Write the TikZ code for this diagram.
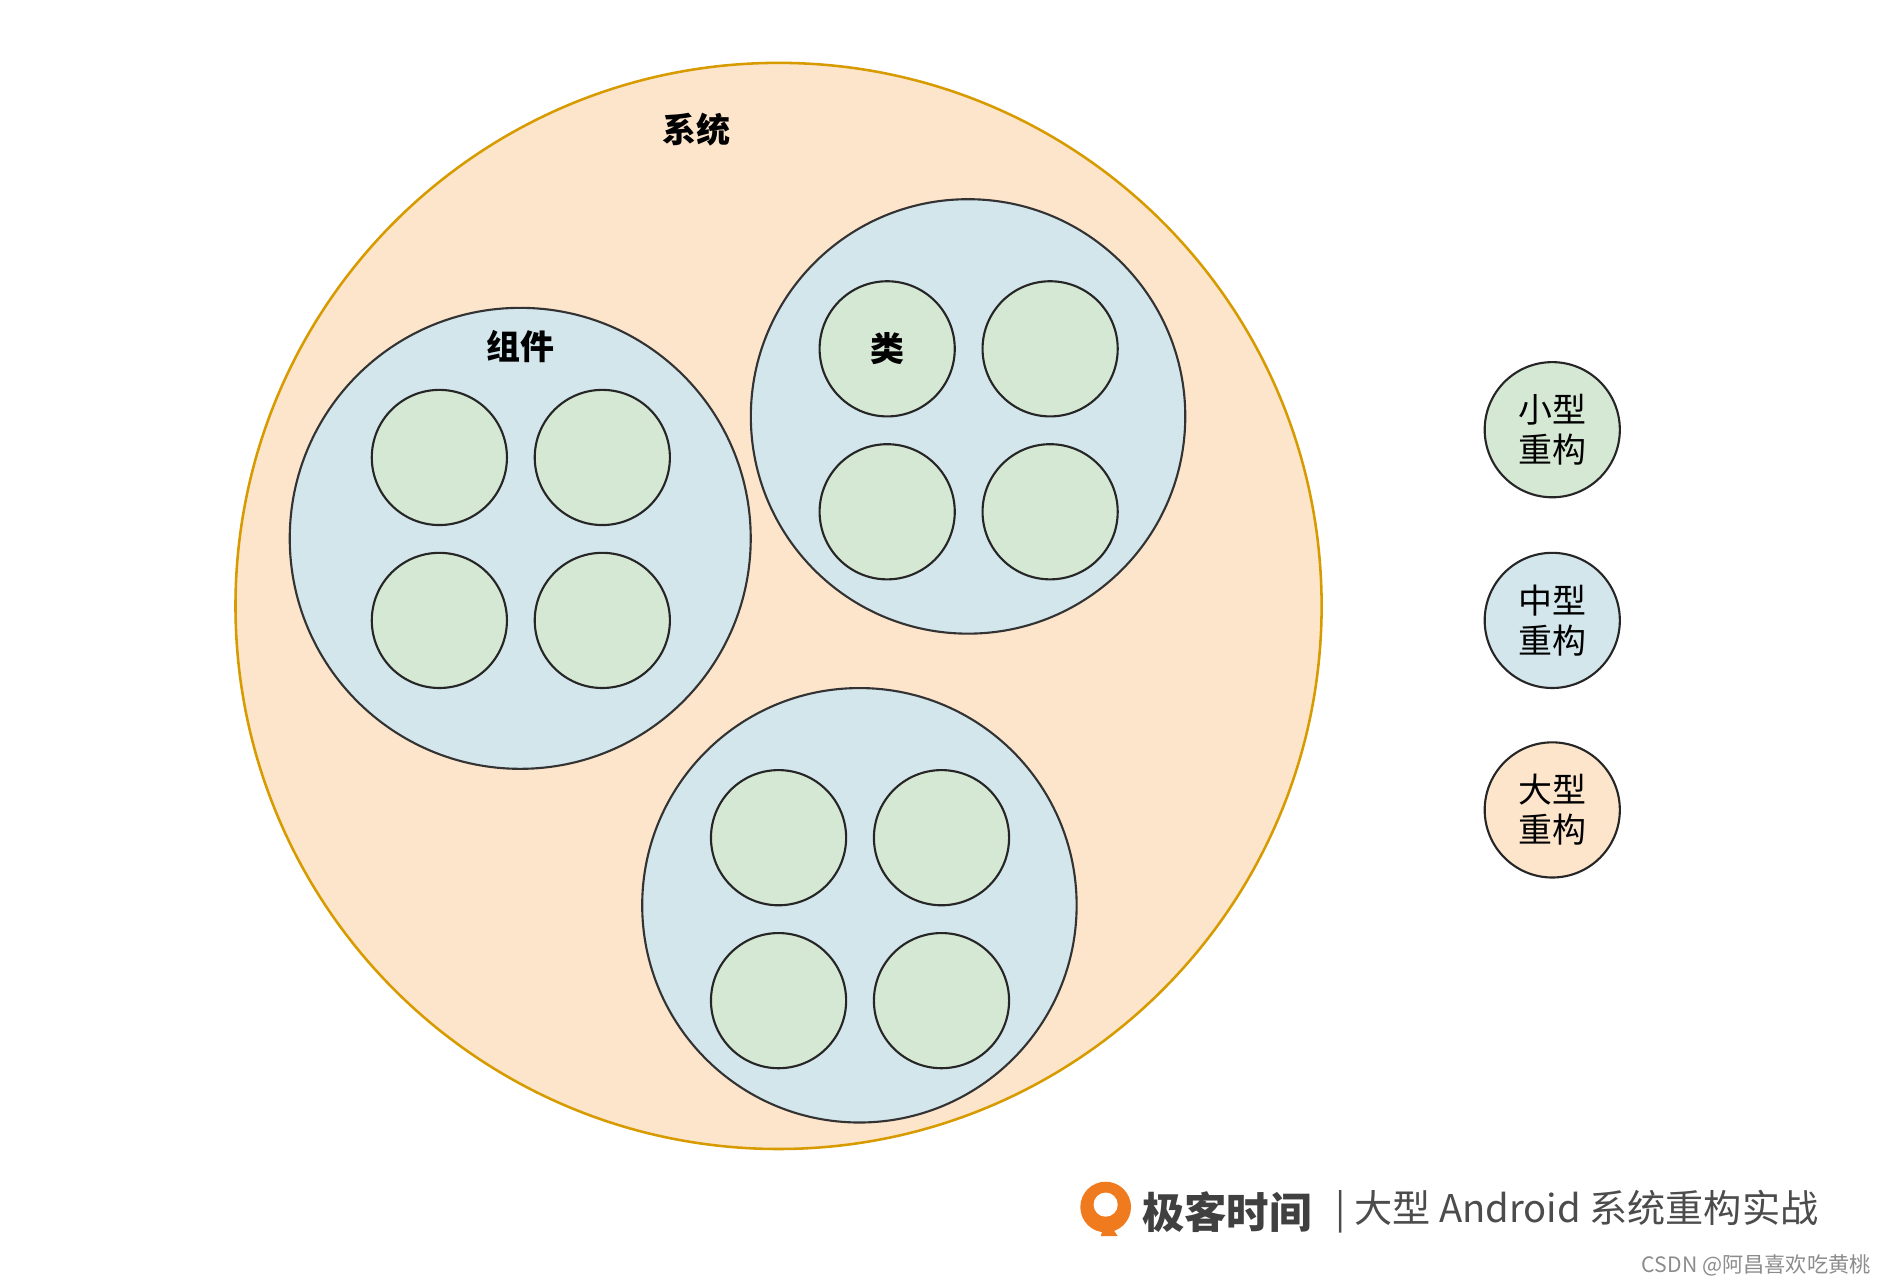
\documentclass[tikz,border=0pt]{standalone}
\usepackage{fontspec}
\setmainfont{Noto Sans CJK SC}
\definecolor{sysfill}{HTML}{FDE5CC}
\definecolor{sysdraw}{HTML}{D79B00}
\definecolor{midfill}{HTML}{D3E6EC}
\definecolor{smallfill}{HTML}{D5E8D4}
\definecolor{logoorange}{HTML}{F07B1F}
\tikzset{
  sysring/.style={circle,fill=sysfill,draw=sysdraw,line width=1.2pt,minimum size=18cm,inner sep=0pt},
  midring/.style={circle,fill=midfill,draw=black!80,line width=1pt,inner sep=0pt},
  smallring/.style={circle,fill=smallfill,draw=black!85,line width=1pt,minimum size=2.24cm,inner sep=0pt},
  legendring/.style={circle,draw=black!85,line width=1pt,minimum size=2.24cm,inner sep=0pt,
    align=center,font=\fontsize{16}{19}\selectfont},
  boldlabel/.style={font=\bfseries\fontsize{16}{19}\selectfont}
}
\begin{document}
\begin{tikzpicture}[x=0.02cm,y=-0.02cm]
\useasboundingbox (0,0) rectangle (1560,1060);
% system
\node[sysring] (sys) at (645,502) {};
\node[boldlabel] (syslabel) at (577,107) {系统};
% middle circles
\node[midring,minimum size=7.64cm] (comp) at (431,446) {};
\node[midring,minimum size=7.2cm] (cls) at (802,345) {};
\node[midring,minimum size=7.2cm] (low) at (712,750) {};
\node[boldlabel] (complabel) at (431,287) {组件};
% small circles
\foreach \cx/\cy/\nm in {364/379/c, 735/289/k, 645/694/l}{
  \foreach \i/\dx/\dy in {1/0/0, 2/135/0, 3/0/135, 4/135/135}{
    \node[smallring] (\nm\i) at (\cx+\dx,\cy+\dy) {};
  }
}
\node[boldlabel] (clslabel) at (k1) {类};
% legend
\node[legendring,fill=smallfill] (small) at (1286,356) {小型\\重构};
\node[legendring,fill=midfill] (medium) at (1286,514) {中型\\重构};
\node[legendring,fill=sysfill] (large) at (1286,671) {大型\\重构};
% footer
\fill[logoorange] (916,1000) circle[radius=0.42cm];
\fill[white] (916,998) circle[radius=0.2cm];
\fill[logoorange] (916,1010) -- (926,1024) -- (912,1024) -- cycle;
\node[anchor=west,font=\bfseries\fontsize{20}{24}\selectfont,text=black!75] (brand) at (940,1004) {极客时间};
\node[anchor=west,font=\fontsize{18}{22}\selectfont,text=black!70] (course) at (1100,1004) {|\ 大型 Android 系统重构实战};
\node[anchor=east,font=\fontsize{10}{12}\selectfont,text=black!45] (mark) at (1556,1048) {CSDN @阿昌喜欢吃黄桃};
\end{tikzpicture}
\end{document}
